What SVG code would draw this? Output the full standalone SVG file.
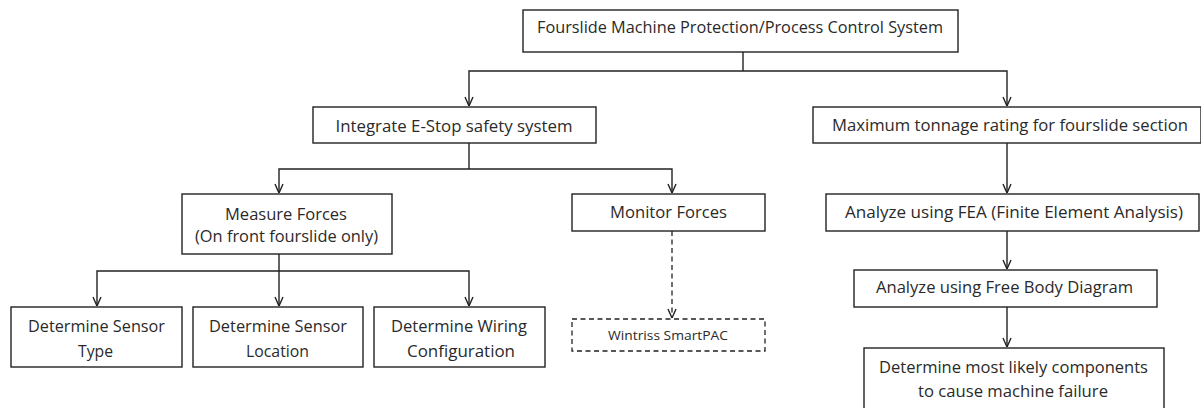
<svg xmlns="http://www.w3.org/2000/svg" width="1201" height="408" viewBox="0 0 1201 408">
<style>
.box{fill:#fff;stroke:#222;stroke-width:1.4}
.dash{fill:#fff;stroke:#222;stroke-width:1.3;stroke-dasharray:5,3.5}
.t{font-family:"Open Sans","Noto Sans",sans-serif;font-size:16px;fill:#2a2a2a;text-anchor:middle}
.s{font-size:13px}
.c{fill:none;stroke:#222;stroke-width:1.4}
.cd{fill:none;stroke:#222;stroke-width:1.3;stroke-dasharray:5,3.5}
</style>
<defs>
<marker id="a" viewBox="0 0 10 10" refX="10" refY="5" markerWidth="10" markerHeight="10" markerUnits="userSpaceOnUse" orient="auto">
<path d="M1,1 L10,5 L1,9" fill="none" stroke="#222" stroke-width="1.4"/>
</marker>
</defs>
<rect width="1201" height="408" fill="#fff"/>
<g id="connectors">
<path class="c" d="M743,52 V71"/>
<path class="c" d="M743,71 H469 V106" marker-end="url(#a)"/>
<path class="c" d="M743,71 H1007 V106" marker-end="url(#a)"/>
<path class="c" d="M469,143 V169"/>
<path class="c" d="M469,169 H279 V193" marker-end="url(#a)"/>
<path class="c" d="M469,169 H672 V193" marker-end="url(#a)"/>
<path class="c" d="M279,254 V271"/>
<path class="c" d="M279,271 H97 V306" marker-end="url(#a)"/>
<path class="c" d="M279,271 V306" marker-end="url(#a)"/>
<path class="c" d="M279,271 H469 V306" marker-end="url(#a)"/>
<path class="cd" d="M672,231 V318" marker-end="url(#a)"/>
<path class="c" d="M1007,143 V193" marker-end="url(#a)"/>
<path class="c" d="M1007,231 V269" marker-end="url(#a)"/>
<path class="c" d="M1007,307 V347" marker-end="url(#a)"/>
</g>
<g id="n-root"><rect class="box" x="523" y="10" width="435" height="42"/><text class="t" x="740" y="33" textLength="406" lengthAdjust="spacingAndGlyphs">Fourslide Machine Protection/Process Control System</text></g>
<g id="n-estop"><rect class="box" x="313" y="107" width="283" height="36"/><text class="t" x="454" y="132" textLength="237" lengthAdjust="spacingAndGlyphs">Integrate E-Stop safety system</text></g>
<g id="n-tonnage"><rect class="box" x="813" y="107" width="388" height="36"/><text class="t" x="1010" y="131" textLength="356" lengthAdjust="spacingAndGlyphs">Maximum tonnage rating for fourslide section</text></g>
<g id="n-measure"><rect class="box" x="182" y="194" width="210" height="60"/><text class="t" x="286" y="220" textLength="122" lengthAdjust="spacingAndGlyphs">Measure Forces</text><text class="t" x="286.5" y="242" textLength="183" lengthAdjust="spacingAndGlyphs">(On front fourslide only)</text></g>
<g id="n-monitor"><rect class="box" x="572" y="194" width="193" height="37"/><text class="t" x="668.5" y="218" textLength="117" lengthAdjust="spacingAndGlyphs">Monitor Forces</text></g>
<g id="n-fea"><rect class="box" x="826" y="194" width="373" height="37"/><text class="t" x="1014" y="218" textLength="338" lengthAdjust="spacingAndGlyphs">Analyze using FEA (Finite Element Analysis)</text></g>
<g id="n-fbd"><rect class="box" x="854" y="270" width="303" height="37"/><text class="t" x="1004.5" y="293" textLength="257" lengthAdjust="spacingAndGlyphs">Analyze using Free Body Diagram</text></g>
<g id="n-type"><rect class="box" x="11" y="307" width="171" height="60"/><text class="t" x="96.5" y="332" textLength="137" lengthAdjust="spacingAndGlyphs">Determine Sensor</text><text class="t" x="95.5" y="357" textLength="35" lengthAdjust="spacingAndGlyphs">Type</text></g>
<g id="n-location"><rect class="box" x="193" y="307" width="170" height="60"/><text class="t" x="278" y="332" textLength="138" lengthAdjust="spacingAndGlyphs">Determine Sensor</text><text class="t" x="277.5" y="357" textLength="63" lengthAdjust="spacingAndGlyphs">Location</text></g>
<g id="n-wiring"><rect class="box" x="374" y="307" width="171" height="60"/><text class="t" x="459" y="332" textLength="136" lengthAdjust="spacingAndGlyphs">Determine Wiring</text><text class="t" x="461" y="357" textLength="108" lengthAdjust="spacingAndGlyphs">Configuration</text></g>
<g id="n-wintriss"><rect class="dash" x="572" y="319" width="193" height="32"/><text class="t s" x="668" y="340" textLength="120" lengthAdjust="spacingAndGlyphs">Wintriss SmartPAC</text></g>
<g id="n-components"><rect class="box" x="864" y="348" width="300" height="64"/><text class="t" x="1013.5" y="373" textLength="269" lengthAdjust="spacingAndGlyphs">Determine most likely components</text><text class="t" x="1013" y="397" textLength="190" lengthAdjust="spacingAndGlyphs">to cause machine failure</text></g>
</svg>
